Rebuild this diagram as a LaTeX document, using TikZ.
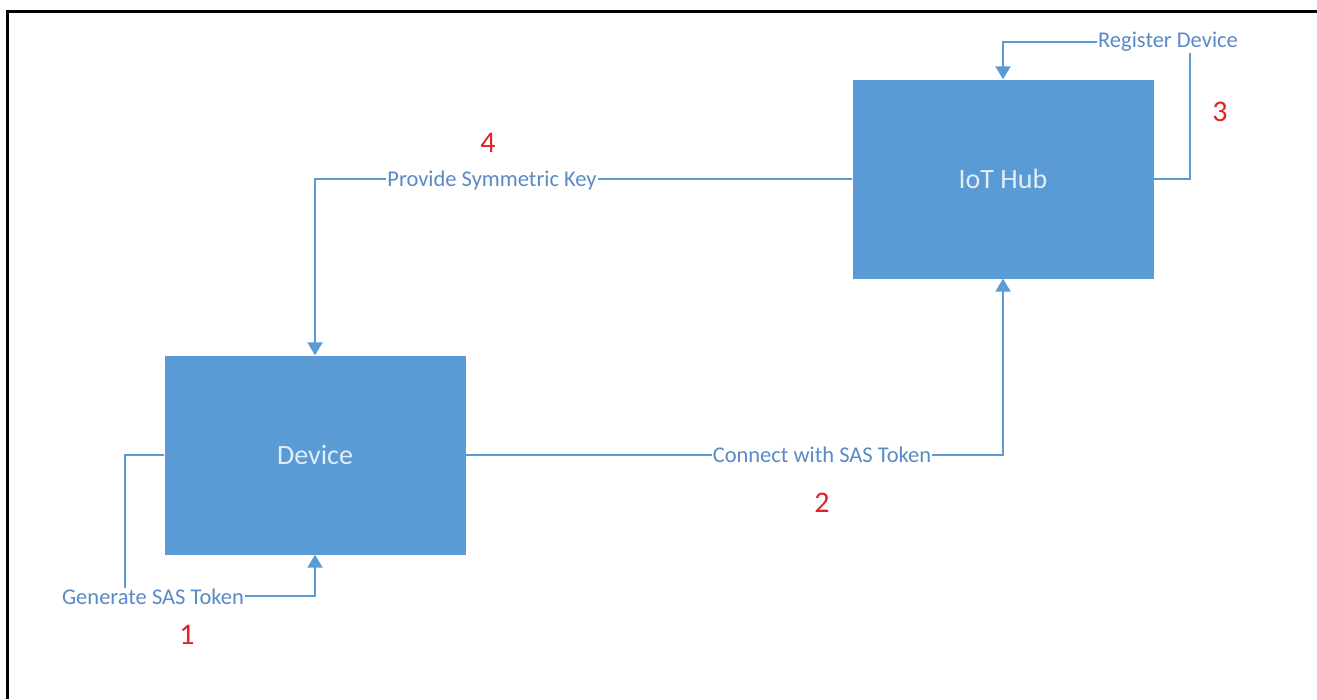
\documentclass[tikz,border=0pt]{standalone}
\usepackage{fontspec}
\setmainfont{Carlito}
\usetikzlibrary{arrows.meta}
\definecolor{boxblue}{HTML}{5B9BD5}
\definecolor{lineblue}{HTML}{5B9BD5}
\definecolor{labelblue}{HTML}{5A8AC6}
\definecolor{numred}{HTML}{E02424}
\begin{document}
\begin{tikzpicture}[x=1pt,y=-1pt,
  box/.style={draw=none, fill=boxblue, minimum width=301pt, minimum height=199pt, inner sep=0pt,
    text=white!82!boxblue, font=\fontsize{28}{30}\selectfont},
  conn/.style={draw=lineblue, line width=2pt, -{Triangle[width=15pt,length=13pt]}},
  lbl/.style={fill=white, inner sep=1pt, text=labelblue, font=\fontsize{22.5}{25}\selectfont},
  num/.style={text=numred, font=\fontsize{30}{32}\selectfont}]
\useasboundingbox (0,0) rectangle (1317,699);
\fill[white] (0,0) rectangle (1317,699);
% frame
\draw[line width=3pt] (7,699) -- (7,11) -- (1317,11);
% boxes
\node[box] (dev) at (315,455) {Device};
\node[box] (hub) at (1003,179) {IoT Hub};
% connectors
\draw[conn] (dev.east) -- (hub.south |- dev.east) -- (hub.south);
\draw[conn] (hub.west) -- (dev.north |- hub.west) -- (dev.north);
\coordinate (r1) at (1190,42);
\draw[conn] (hub.east) -- (r1 |- hub.east) -- (r1) -- (hub.north |- r1) -- (hub.north);
\coordinate (g1) at (125,596);
\draw[conn] (dev.west) -- (g1 |- dev.west) -- (g1) -- (dev.south |- g1) -- (dev.south);
% labels
\node[lbl] (l2) at (822,455) {Connect with SAS Token};
\node[lbl] (l4) at (492,180) {Provide Symmetric Key};
\node[lbl] (l3) at (1168,42) {Register Device};
\node[lbl] (l1) at (153,597) {Generate SAS Token};
% numbers
\node[num] (n1) at (187,635) {1};
\node[num] (n2) at (822,503) {2};
\node[num] (n3) at (1220,112) {3};
\node[num] (n4) at (488,143) {4};
\end{tikzpicture}
\end{document}
